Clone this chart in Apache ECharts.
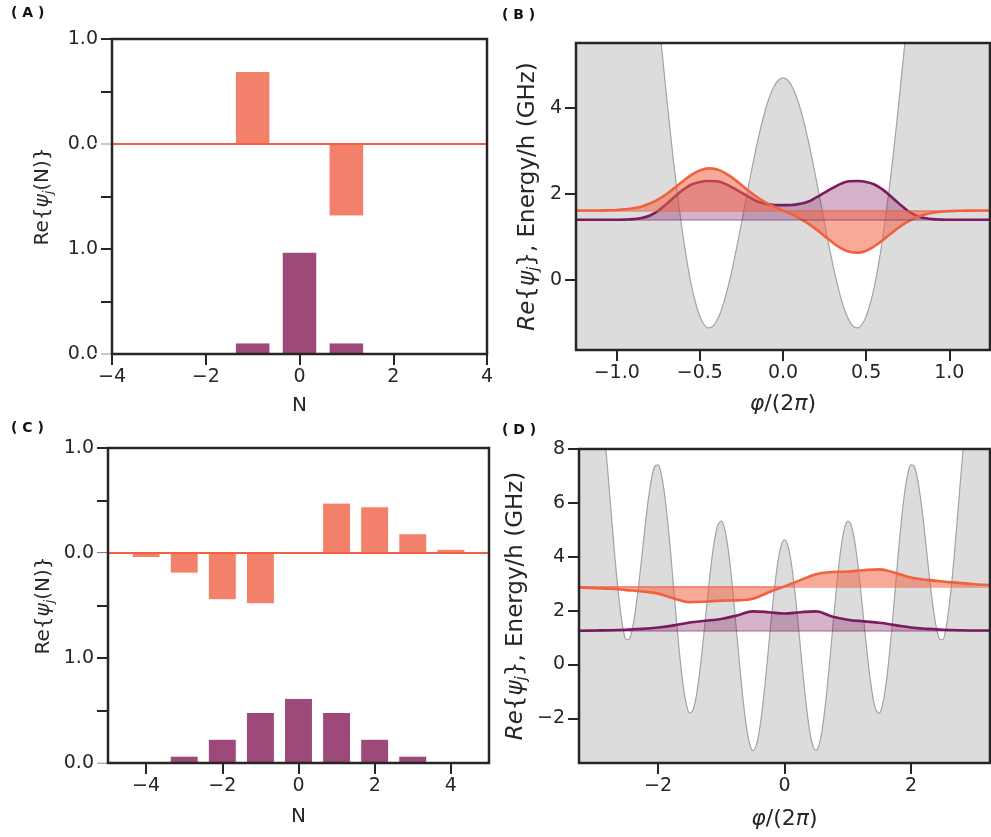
<!DOCTYPE html>
<html><head><meta charset="utf-8">
<script src="https://cdn.jsdelivr.net/npm/echarts@6.0.0/dist/echarts.min.js"></script>
<style>html,body{margin:0;padding:0;background:#fff}#c{width:991px;height:837px}</style>
</head><body><div id="c"></div>
<script>
// ---------------- Panel A: charge basis amplitudes ----------------
const nA = [-4, -3, -2, -1, 0, 1, 2, 3, 4];
const psi1A = [0, 0, 0.012, 0.695, 0, -0.69, -0.012, 0, 0];
const psi0A = [0, 0, 0.004, 0.11, 0.974, 0.11, 0.004, 0, 0];
// ---------------- Panel C ----------------
const nC = [-5, -4, -3, -2, -1, 0, 1, 2, 3, 4, 5];
const psi1C = [-0.005, -0.048, -0.196, -0.45, -0.489, 0, 0.48, 0.445, 0.188, 0.04, 0.005];
const psi0C = [0.002, 0.01, 0.07, 0.231, 0.486, 0.62, 0.486, 0.231, 0.07, 0.01, 0.002];
const yLabelsAC = ['0.0', '', '1.0', '', '0.0', '', '1.0'];
const xTicksA = [-4, -2, 0, 2, 4];
const xTicksC = [-4, -2, 0, 2, 4];
const upperOffset = 2; // upper state drawn with its zero at this level

// ---------------- Panel B ----------------
const phiPotB = [-1.25, -1.0, -0.8, -0.775, -0.75, -0.725, -0.7, -0.675, -0.65, -0.625, -0.6, -0.575, -0.55, -0.525, -0.5, -0.475, -0.45, -0.425, -0.4, -0.375, -0.35, -0.325, -0.3, -0.275, -0.25, -0.225, -0.2, -0.175, -0.15, -0.125, -0.1, -0.075, -0.05, -0.025, 0,
  0.025, 0.05, 0.075, 0.1, 0.125, 0.15, 0.175, 0.2, 0.225, 0.25, 0.275, 0.3, 0.325, 0.35, 0.375, 0.4, 0.425, 0.45, 0.475, 0.5, 0.525, 0.55, 0.575, 0.6, 0.625, 0.65, 0.675, 0.7, 0.725, 0.75, 0.775, 0.8, 1.0, 1.25];
const vB = [15.91, 14.42, 8.163, 7.172, 6.178, 5.196, 4.242, 3.329, 2.474, 1.688, 0.984, 0.371, -0.142, -0.549, -0.847, -1.036, -1.115, -1.089, -0.962, -0.745, -0.445, -0.076, 0.350, 0.818, 1.313, 1.821, 2.325, 2.812, 3.266, 3.675, 4.026, 4.311, 4.519, 4.647, 4.69,
  4.647, 4.519, 4.311, 4.026, 3.675, 3.266, 2.812, 2.325, 1.821, 1.313, 0.818, 0.350, -0.076, -0.445, -0.745, -0.962, -1.089, -1.115, -1.036, -0.847, -0.549, -0.142, 0.371, 0.984, 1.688, 2.474, 3.329, 4.242, 5.196, 6.178, 7.172, 8.163, 14.42, 15.91];
const phiWaveB = [-1.25, -1.2, -1.15, -1.1, -1.05, -1.0, -0.95, -0.9, -0.85, -0.8, -0.75, -0.7, -0.65, -0.6, -0.55, -0.5, -0.45, -0.4, -0.35, -0.3, -0.25, -0.2, -0.15, -0.1, -0.05, 0,
  0.05, 0.1, 0.15, 0.2, 0.25, 0.3, 0.35, 0.4, 0.45, 0.5, 0.55, 0.6, 0.65, 0.7, 0.75, 0.8, 0.85, 0.9, 0.95, 1.0, 1.05, 1.1, 1.15, 1.2, 1.25];
const psi0B = [1.395, 1.395, 1.395, 1.395, 1.395, 1.397, 1.40, 1.41, 1.435, 1.495, 1.605, 1.765, 1.935, 2.095, 2.215, 2.275, 2.295, 2.29, 2.235, 2.135, 2.025, 1.915, 1.815, 1.765, 1.74, 1.735,
  1.74, 1.765, 1.815, 1.915, 2.025, 2.135, 2.235, 2.29, 2.295, 2.275, 2.215, 2.095, 1.935, 1.765, 1.605, 1.495, 1.435, 1.41, 1.40, 1.397, 1.395, 1.395, 1.395, 1.395, 1.395];
const psi1B = [1.61, 1.61, 1.611, 1.612, 1.616, 1.623, 1.637, 1.662, 1.706, 1.773, 1.869, 1.994, 2.142, 2.297, 2.439, 2.542, 2.589, 2.568, 2.486, 2.357, 2.204, 2.048, 1.908, 1.79, 1.694, 1.61,
  1.526, 1.43, 1.312, 1.172, 1.016, 0.863, 0.734, 0.652, 0.631, 0.678, 0.781, 0.923, 1.078, 1.226, 1.351, 1.447, 1.514, 1.558, 1.583, 1.597, 1.604, 1.608, 1.609, 1.61, 1.61];
const E0B = 1.395, E1B = 1.61;
const xTicksB = [-1.0, -0.5, 0, 0.5, 1.0];
const yTicksB = [0, 2, 4];

// ---------------- Panel D ----------------
const phiPotD = [-3.25, -3.2, -3.15, -3.1, -3.05, -3.0, -2.95, -2.9, -2.85, -2.8, -2.75, -2.7, -2.65, -2.6, -2.55, -2.5, -2.45, -2.4, -2.35, -2.3, -2.25, -2.2, -2.15, -2.1, -2.05, -2.0,
  -1.95, -1.9, -1.85, -1.8, -1.75, -1.7, -1.65, -1.6, -1.55, -1.5, -1.45, -1.4, -1.35, -1.3, -1.25, -1.2, -1.15, -1.1, -1.05, -1.0,
  -0.95, -0.9, -0.85, -0.8, -0.75, -0.7, -0.65, -0.6, -0.55, -0.5, -0.45, -0.4, -0.35, -0.3, -0.25, -0.2, -0.15, -0.1, -0.05, 0,
  0.05, 0.1, 0.15, 0.2, 0.25, 0.3, 0.35, 0.4, 0.45, 0.5, 0.55, 0.6, 0.65, 0.7, 0.75, 0.8, 0.85, 0.9, 0.95, 1.0,
  1.05, 1.1, 1.15, 1.2, 1.25, 1.3, 1.35, 1.4, 1.45, 1.5, 1.55, 1.6, 1.65, 1.7, 1.75, 1.8, 1.85, 1.9, 1.95, 2.0,
  2.05, 2.1, 2.15, 2.2, 2.25, 2.3, 2.35, 2.4, 2.45, 2.5, 2.55, 2.6, 2.65, 2.7, 2.75, 2.8, 2.85, 2.9, 2.95, 3.0, 3.05, 3.1, 3.15, 3.2, 3.25];
const vD = [8.3, 8.983, 9.877, 10.545, 10.899, 10.885, 10.482, 9.711, 8.626, 7.315, 5.886, 4.461, 3.160, 2.092, 1.29, 0.92, 0.95, 1.397, 2.117, 3.071, 4.148, 5.230, 6.194, 6.931, 7.355, 7.41,
  7.077, 6.375, 5.360, 4.118, 2.758, 1.403, 0.171, -0.827, -1.504, -1.806, -1.713, -1.244, -0.454, 0.569, 1.716, 2.867, 3.900, 4.707, 5.200, 5.325,
  5.061, 4.429, 3.483, 2.311, 1.021, -0.265, -1.427, -2.356, -2.964, -3.196, -3.033, -2.495, -1.636, -0.543, 0.673, 1.894, 2.997, 3.873, 4.436, 4.63,
  4.436, 3.873, 2.997, 1.894, 0.673, -0.543, -1.636, -2.495, -3.033, -3.196, -2.964, -2.356, -1.427, -0.265, 1.021, 2.311, 3.483, 4.429, 5.061, 5.325,
  5.200, 4.707, 3.900, 2.867, 1.716, 0.569, -0.454, -1.244, -1.713, -1.806, -1.504, -0.827, 0.171, 1.403, 2.758, 4.118, 5.360, 6.375, 7.077, 7.41,
  7.355, 6.931, 6.194, 5.230, 4.148, 3.071, 2.117, 1.397, 0.95, 0.92, 1.29, 2.092, 3.160, 4.461, 5.886, 7.315, 8.626, 9.711, 10.482, 10.885, 10.899, 10.545, 9.877, 8.983, 8.3];
const phiWaveD = [-3.25, -3.0, -2.75, -2.5, -2.25, -2.0, -1.75, -1.5, -1.25, -1.0, -0.75, -0.5, -0.25, 0, 0.25, 0.5, 0.75, 1.0, 1.25, 1.5, 1.75, 2.0, 2.25, 2.5, 2.75, 3.0, 3.25];
const psi0D = [1.25, 1.26, 1.27, 1.29, 1.32, 1.37, 1.45, 1.56, 1.62, 1.69, 1.82, 1.97, 1.94, 1.89, 1.94, 1.97, 1.78, 1.66, 1.60, 1.55, 1.46, 1.37, 1.32, 1.29, 1.27, 1.26, 1.26];
const psi1D = [2.86, 2.83, 2.81, 2.76, 2.71, 2.63, 2.45, 2.31, 2.33, 2.37, 2.38, 2.44, 2.68, 2.90, 3.13, 3.35, 3.43, 3.45, 3.50, 3.53, 3.40, 3.23, 3.14, 3.08, 3.03, 2.98, 2.95];
const E0D = 1.253, E1D = 2.90;
const xTicksD = [-2, 0, 2];
const yTicksD = [-2, 0, 2, 4, 6, 8];

// ---------------- styling ----------------
const FONT = 'DejaVu Sans';
const TXT = '#262626';
const ORANGE_BAR = '#F3806A', PURPLE_BAR = '#9D4A7A';
const ORANGE_LINE = '#F0623F', PURPLE_LINE = '#7B1A5E';
const ORANGE_FILL = 'rgba(242,100,70,0.55)', PURPLE_FILL = 'rgba(125,25,95,0.33)';
const GREY_FILL = '#dcdcdc', GREY_LINE = '#a3a3a3';

const zip = (xs, ys) => xs.map((x, i) => [x, ys[i]]);
const minus = s => String(s).replace('-', '\u2212');

const grids = [
  {left: 112, top: 39, width: 375, height: 315},
  {left: 576, top: 43, width: 414, height: 307},
  {left: 108, top: 448, width: 381, height: 315},
  {left: 579, top: 449, width: 411, height: 314}
].map(g => Object.assign(g, {show: true, borderColor: TXT, borderWidth: 2.5, backgroundColor: 'transparent', z: 10, containLabel: false, outerBoundsMode: 'none'}));

function nameStyle(size) {
  const lh = size + 4;
  return {fontFamily: FONT, fontSize: size, color: TXT, lineHeight: lh, rich: {
    i: {fontFamily: FONT, fontSize: size, fontStyle: 'italic', color: TXT, lineHeight: lh},
    s: {fontFamily: FONT, fontSize: Math.round(size * 0.65), fontStyle: 'italic', color: TXT, lineHeight: Math.round(size * 0.65), verticalAlign: 'bottom'}
  }};
}
const tick = {show: true, inside: false, length: 11, lineStyle: {color: TXT, width: 2}};
const label = {fontFamily: FONT, fontSize: 19, color: TXT, margin: 14};

function ax(gi, min, max, ticks, fmt, name, gap, nsize) {
  return {type: 'value', gridIndex: gi, min: min, max: max,
    axisLine: {show: false, onZero: false}, splitLine: {show: false},
    axisTick: Object.assign({customValues: ticks}, tick),
    axisLabel: Object.assign({customValues: ticks, formatter: fmt}, label),
    name: name, nameLocation: 'middle', nameGap: gap, nameTextStyle: nameStyle(nsize)};
}
const acTicksY = yLabelsAC.map((_, i) => i * 0.5);
const acFmt = v => yLabelsAC[Math.round(v / 0.5)];
const intFmt = v => minus(Math.round(v));
const oneFmt = v => minus(v.toFixed(1));

const xAxis = [
  ax(0, -4, 4, xTicksA, intFmt, 'N', 40, 20),
  ax(1, -1.245, 1.245, xTicksB, oneFmt, '{i|φ}/(2{i|π})', 41, 22),
  ax(2, -5, 5, xTicksC, intFmt, 'N', 42, 20),
  ax(3, -3.25, 3.25, xTicksD, intFmt, '{i|φ}/(2{i|π})', 43, 22)
];
const hiddenY = gi => ({type: 'value', gridIndex: gi, min: -upperOffset, max: 3 - upperOffset, show: false,
  axisLine: {show: false, onZero: false}, splitLine: {show: false}});
const yAxis = [
  ax(0, 0, 3, acTicksY, acFmt, 'Re{{i|ψ}{s|j}(N)}', 57, 20),
  ax(1, -1.628, 5.5, yTicksB, intFmt, '{i|Re}{{i|ψ}{s|j}}, Energy/h (GHz)', 34, 23),
  ax(2, 0, 3, acTicksY, acFmt, 'Re{{i|ψ}{s|j}(N)}', 52, 20),
  ax(3, -3.66, 8, yTicksD, intFmt, '{i|Re}{{i|ψ}{s|j}}, Energy/h (GHz)', 49, 23),
  hiddenY(0),
  hiddenY(2)
];

function hline(y, color, width) {
  return {symbol: 'none', silent: true, animation: false, label: {show: false},
    lineStyle: {color: color, width: width, type: 'solid', opacity: 1},
    emphasis: {disabled: true}, data: [{yAxis: y}]};
}

function barPanel(gi, hiddenIdx, ns, up, low, unitPx) {
  const bw = 0.76 * unitPx;
  const common = {type: 'bar', xAxisIndex: gi, barWidth: bw, barGap: '-100%', silent: true, animation: false};
  return [
    Object.assign({}, common, {yAxisIndex: gi, data: zip(ns, low), itemStyle: {color: PURPLE_BAR, borderColor: '#fff', borderWidth: 1}, markLine: hline(0, PURPLE_BAR, 2)}),
    Object.assign({}, common, {yAxisIndex: hiddenIdx, data: zip(ns, up), itemStyle: {color: ORANGE_BAR, borderColor: '#fff', borderWidth: 1}, markLine: hline(0, ORANGE_LINE, 2.2)})
  ];
}

function wavePanel(gi, phiPot, v, phiW, p0, p1, e0, e1) {
  const common = {type: 'line', xAxisIndex: gi, yAxisIndex: gi, symbol: 'none', showSymbol: false, silent: true, animation: false, clip: true};
  return [
    Object.assign({}, common, {data: zip(phiPot, v), smooth: 0.35, z: 1,
      lineStyle: {color: GREY_LINE, width: 1.2}, areaStyle: {origin: 'start', color: GREY_FILL, opacity: 1}}),
    Object.assign({}, common, {data: zip(phiW, p0), smooth: 0.4, z: 3,
      lineStyle: {color: PURPLE_LINE, width: 2.6}, areaStyle: {origin: e0, color: PURPLE_FILL, opacity: 1},
      markLine: hline(e0, 'rgba(125,25,95,0.45)', 1.6)}),
    Object.assign({}, common, {data: zip(phiW, p1), smooth: 0.4, z: 4,
      lineStyle: {color: ORANGE_LINE, width: 2.6}, areaStyle: {origin: e1, color: ORANGE_FILL, opacity: 1},
      markLine: hline(e1, 'rgba(235,95,65,0.6)', 1.6)})
  ];
}

const series = [].concat(
  barPanel(0, 4, nA, psi1A, psi0A, 375 / 8),
  wavePanel(1, phiPotB, vB, phiWaveB, psi0B, psi1B, E0B, E1B),
  barPanel(2, 5, nC, psi1C, psi0C, 381 / 10),
  wavePanel(3, phiPotD, vD, phiWaveD, psi0D, psi1D, E0D, E1D)
);

const panelTitle = (t, l, tp) => ({text: t, left: l, top: tp, padding: 0,
  textStyle: {fontFamily: 'DejaVu Sans', fontSize: 14, fontWeight: 'bold', color: '#111'}});

const chart = echarts.init(document.getElementById('c'), null, {renderer: 'canvas'});
chart.setOption({
  animation: false,
  backgroundColor: '#fff',
  title: [panelTitle('( A )', 11, 6), panelTitle('( B )', 502, 8), panelTitle('( C )', 11, 421), panelTitle('( D )', 502, 423)],
  grid: grids,
  xAxis: xAxis,
  yAxis: yAxis,
  series: series
});
</script></body></html>
